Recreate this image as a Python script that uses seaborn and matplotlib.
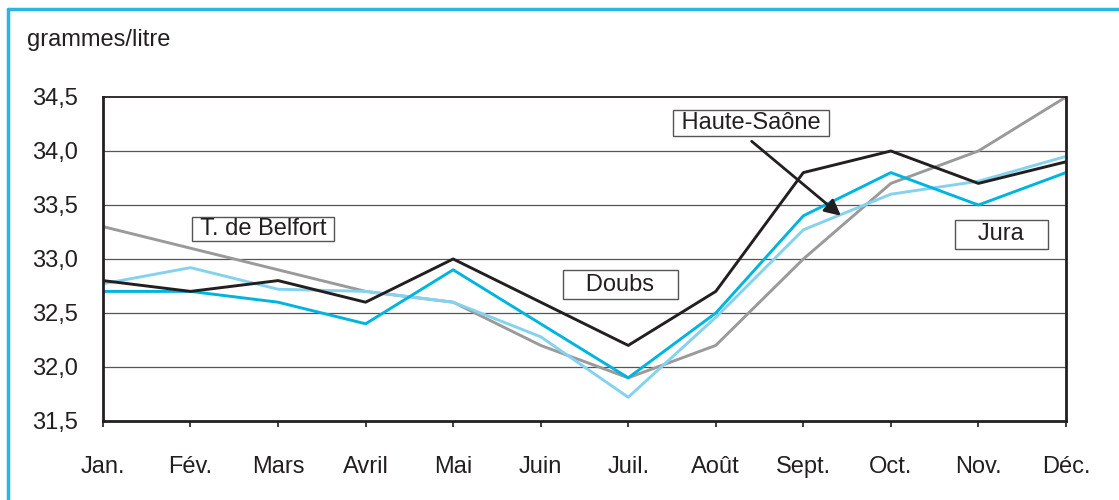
import pandas as pd
import matplotlib
matplotlib.use("Agg")
import matplotlib.pyplot as plt
from matplotlib.lines import Line2D
import seaborn as sns

# valeurs (grammes/litre)
mois = ["Jan.", "Fév.", "Mars", "Avril", "Mai", "Juin", "Juil.", "Août",
        "Sept.", "Oct.", "Nov.", "Déc."]
doubs = [32.8, 32.7, 32.8, 32.6, 33.0, 32.6, 32.2, 32.7, 33.8, 34.0, 33.7, 33.9]
jura = [32.7, 32.7, 32.6, 32.4, 32.9, 32.4, 31.9, 32.5, 33.4, 33.8, 33.5, 33.8]
haute_saone = [32.77, 32.92, 32.72, 32.7, 32.6, 32.28, 31.72, 32.46, 33.27, 33.6, 33.72, 33.95]
belfort = [33.3, 33.1, 32.9, 32.7, 32.6, 32.2, 31.9, 32.2, 33.0, 33.7, 34.0, 34.5]

y_ticks = [31.5, 32.0, 32.5, 33.0, 33.5, 34.0, 34.5]
y_labels = ["31,5", "32,0", "32,5", "33,0", "33,5", "34,0", "34,5"]

series = {"Doubs": doubs, "Jura": jura, "Haute-Saône": haute_saone,
          "T. de Belfort": belfort}
colors = {"Doubs": "#231f20", "Jura": "#00b4e0", "Haute-Saône": "#85d2ef",
          "T. de Belfort": "#9a9a9a"}

rows = []
for name, vals in series.items():
    for i, v in enumerate(vals):
        rows.append({"mois": i, "valeur": v, "dep": name})
df = pd.DataFrame(rows)

sns.set_theme(style="white")
plt.rcParams["font.family"] = ["Liberation Sans", "DejaVu Sans"]

fig = plt.figure(figsize=(11.19, 5), dpi=100)
ax = fig.add_axes([0.092, 0.158, 0.8606, 0.648])

# order so that the grey and light blue lines sit under the others
order = ["T. de Belfort", "Haute-Saône", "Jura", "Doubs"]
sns.lineplot(data=df, x="mois", y="valeur", hue="dep", hue_order=order,
             palette=colors, linewidth=2.1, legend=False, ax=ax, sort=False)

ax.set_xlim(0, len(mois) - 1)
ax.set_ylim(31.5, 34.5)
ax.set_yticks(y_ticks)
ax.set_yticklabels(y_labels)
ax.set_xticks(range(len(mois)))
ax.set_xticklabels(mois)
ax.set_xlabel("")
ax.set_ylabel("")

for y in y_ticks[1:-1]:
    ax.axhline(y, color="#555555", lw=0.9, zorder=0)

ax.tick_params(axis="y", length=0, pad=18, labelsize=17, colors="#231f20")
ax.tick_params(axis="x", length=4, width=1.2, direction="out", pad=21,
               labelsize=17, colors="#231f20", bottom=True)
for side in ["left", "right", "bottom"]:
    ax.spines[side].set_color("#231f20")
    ax.spines[side].set_linewidth(2.0)
ax.spines["top"].set_color("#231f20")
ax.spines["top"].set_linewidth(1.3)

def boite(pad):
    return dict(boxstyle=f"square,pad={pad}", fc="white", ec="#555555", lw=1.0)

ax.text(1.83, 33.28, " T. de Belfort ", fontsize=17, ha="center", va="center",
        color="#231f20", bbox=boite(0.05))
ax.text(5.91, 32.76, "   Doubs   ", fontsize=17, ha="center", va="center",
        color="#231f20", bbox=boite(0.15))
ax.text(7.40, 34.26, " Haute-Saône ", fontsize=17, ha="center", va="center",
        color="#231f20", bbox=boite(0.08))
ax.text(10.26, 33.23, "   Jura   ", fontsize=17, ha="center", va="center",
        color="#231f20", bbox=boite(0.15))
ax.annotate("", xy=(8.43, 33.40), xytext=(7.41, 34.09),
            arrowprops=dict(arrowstyle="-|>", color="#231f20", lw=2.0,
                            mutation_scale=24, shrinkA=0, shrinkB=0))

fig.text(0.024, 0.92, "grammes/litre", fontsize=17, color="#231f20",
         va="center", ha="left")

# cadre bleu
fig.add_artist(Line2D([0.007, 1.0], [0.982, 0.982], transform=fig.transFigure,
                      color="#29b6e3", lw=2.5))
fig.add_artist(Line2D([0.007, 0.007], [0.0, 0.982], transform=fig.transFigure,
                      color="#29b6e3", lw=2.5))

fig.savefig("out.png", dpi=100, facecolor="white")
